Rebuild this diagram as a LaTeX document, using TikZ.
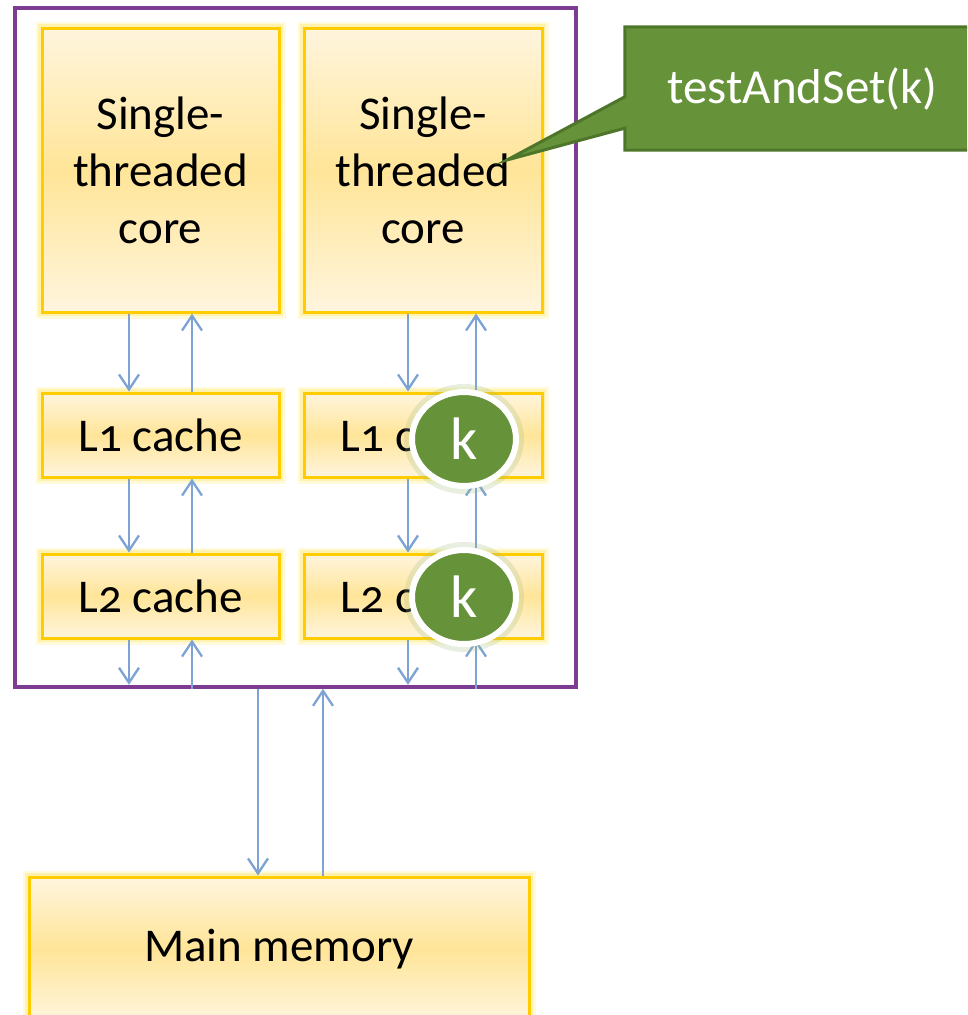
\documentclass[tikz,border=0pt]{standalone}
\usepackage{fontspec}
\setmainfont{Carlito}[Numbers=OldStyle]
\usetikzlibrary{arrows.meta,shapes.geometric}
\definecolor{chipc}{RGB}{125,60,145}
\definecolor{boxb}{RGB}{255,204,0}
\definecolor{boxl}{RGB}{255,245,222}
\definecolor{boxm}{RGB}{255,229,152}
\definecolor{arrc}{RGB}{125,163,212}
\definecolor{grn}{RGB}{102,146,58}
\definecolor{grnd}{RGB}{78,118,42}
\definecolor{glowy}{RGB}{255,225,60}
\begin{document}
\begin{tikzpicture}[x=1pt,y=-1pt,
  unit/.style={rectangle, draw=boxb, line width=3pt, top color=boxl, bottom color=boxl, middle color=boxm,
    align=center, font=\fontsize{47}{57}\selectfont, inner sep=0pt,
    preaction={draw=glowy, line width=13pt, opacity=0.18},
    preaction={draw=glowy, line width=8pt, opacity=0.3}},
  arr/.style={draw=arrc, line width=2.3pt, -{Straight Barb[length=15pt,width=20pt]}},
  kdot/.style={ellipse, fill=grn, draw=white, line width=6pt, minimum width=104pt, minimum height=94pt,
    inner sep=0pt, text=white, font=\fontsize{60}{60}\selectfont,
    preaction={draw=grn!60, line width=16pt, opacity=0.25}},
  chipbox/.style={rectangle, draw=chipc, line width=3.5pt, inner sep=0pt}]
\useasboundingbox (0,0) rectangle (967,1015);
\clip (0,0) rectangle (967,1015);

\node[chipbox, minimum width=561pt, minimum height=679pt] (chip) at (295.5,347.5) {};

\node[unit, minimum width=237pt, minimum height=284pt] (c1) at (160.5,170) {Single-\\threaded\\core};
\node[unit, minimum width=238pt, minimum height=284pt] (c2) at (423,170) {Single-\\threaded\\core};
\node[unit, minimum width=237pt, minimum height=84pt] (l1a) at (160.5,435) {L1 cache};
\node[unit, minimum width=238pt, minimum height=84pt] (l1b) at (423,435) {L1 cache};
\node[unit, minimum width=237pt, minimum height=84pt] (l2a) at (160.5,596) {L2 cache};
\node[unit, minimum width=238pt, minimum height=84pt] (l2b) at (423,596) {L2 cache};
\node[unit, minimum width=500pt, minimum height=144pt] (mem) at (279,949) {Main memory};

% left column
\draw[arr] ([xshift=-31.5pt]c1.south) -- ([xshift=-31.5pt]l1a.north);
\draw[arr] ([xshift=31.5pt]l1a.north) -- ([xshift=31.5pt]c1.south);
\draw[arr] ([xshift=-31.5pt]l1a.south) -- ([xshift=-31.5pt]l2a.north);
\draw[arr] ([xshift=31.5pt]l2a.north) -- ([xshift=31.5pt]l1a.south);
\draw[arr] ([xshift=-31.5pt]l2a.south) -- ([xshift=-31.5pt,yshift=4pt]l2a.south |- chip.south);
\draw[arr] ([xshift=31.5pt]l2a.south |- chip.south) -- ([xshift=31.5pt]l2a.south);
% right column
\draw[arr] ([xshift=-15pt]c2.south) -- ([xshift=-15pt]l1b.north);
\draw[arr] ([xshift=53pt]l1b.north) -- ([xshift=53pt]c2.south);
\draw[arr] ([xshift=-15pt]l1b.south) -- ([xshift=-15pt]l2b.north);
\draw[arr] ([xshift=53pt]l2b.north) -- ([xshift=53pt]l1b.south);
\draw[arr] ([xshift=-15pt]l2b.south) -- ([xshift=-15pt,yshift=4pt]l2b.south |- chip.south);
\draw[arr] ([xshift=53pt]l2b.south |- chip.south) -- ([xshift=53pt]l2b.south);
% memory
\draw[arr] ([xshift=-21pt]mem.north |- chip.south) -- ([xshift=-21pt]mem.north);
\draw[arr] ([xshift=44pt]mem.north) -- ([xshift=44pt]mem.north |- chip.south);

\node[kdot] (ka) at (464,439) {k};
\node[kdot] (kb) at (464,597) {k};

% callout
\node[minimum width=347pt, minimum height=123pt, inner sep=0pt] (tas) at (798.5,88.5) {};
\coordinate (tip) at (507,160);
\fill[grn, draw=grnd, line width=3pt, line join=miter]
  (tas.north west) -- (tas.north east) -- (tas.south east) -- (tas.south west)
  -- ([yshift=22pt]tas.south west) -- (tip) -- ([yshift=-70pt]tas.south west |- tas.north) -- cycle;
\node[text=white, font=\fontsize{49}{49}\selectfont] (tast) at ([xshift=4pt]tas.center) {testAndSet(k)};
\end{tikzpicture}
\end{document}
